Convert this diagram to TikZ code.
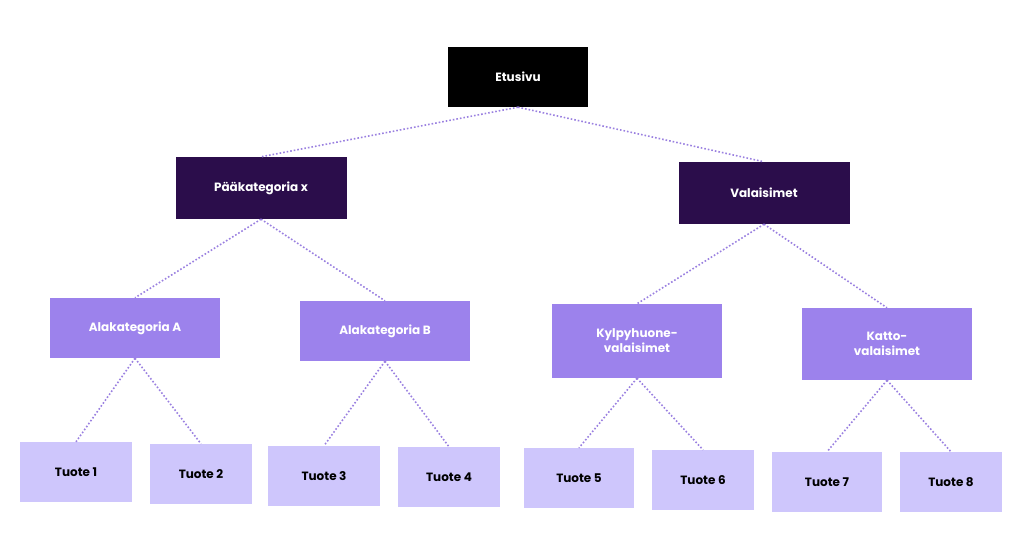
\documentclass[tikz,border=0pt]{standalone}
\usepackage{fontspec}
\setmainfont{Poppins}
\begin{document}
\begin{tikzpicture}[x=1pt,y=-1pt,
  box/.style={minimum height=60pt,align=center,font=\bfseries\fontsize{12}{15}\selectfont,inner sep=2pt},
  top/.style={box,fill=black,text=white,minimum width=140pt},
  cat/.style={box,fill=mcat,text=white,minimum width=171pt,minimum height=62pt},
  sub/.style={box,fill=msub,text=white,minimum width=170pt},
  leaf/.style={box,fill=mleaf,text=black,minimum width=106pt},
  con/.style={draw=mline,line width=1.6pt,dotted}]
\definecolor{mcat}{HTML}{2B0D4B}
\definecolor{msub}{HTML}{9C82EC}
\definecolor{mleaf}{HTML}{CEC6FC}
\definecolor{mline}{HTML}{9A80E0}
\useasboundingbox (0,0) rectangle (1024,553);
\node[top] (e) at (518,77) {Etusivu};
\node[cat] (p) at (261,188) {Pääkategoria x};
\node[cat] (v) at (764,193) {Valaisimet};
\node[sub] (a) at (135,328) {Alakategoria A};
\node[sub] (b) at (385,331) {Alakategoria B};
\node[sub,minimum height=74pt] (k) at (637,341) {Kylpyhuone-\\valaisimet};
\node[sub,minimum height=72pt] (t) at (887,344) {Katto-\\valaisimet};
\node[leaf,minimum width=112pt] (t1) at (76,472) {Tuote 1};
\node[leaf,minimum width=102pt] (t2) at (201,474) {Tuote 2};
\node[leaf,minimum width=112pt] (t3) at (324,476) {Tuote 3};
\node[leaf,minimum width=102pt] (t4) at (449,477) {Tuote 4};
\node[leaf,minimum width=110pt] (t5) at (579,478) {Tuote 5};
\node[leaf,minimum width=102pt] (t6) at (703,480) {Tuote 6};
\node[leaf,minimum width=110pt] (t7) at (827,482) {Tuote 7};
\node[leaf,minimum width=102pt] (t8) at (951,482) {Tuote 8};
\foreach \u/\w in {e/p,e/v,p/a,p/b,v/k,v/t,a/t1,a/t2,b/t3,b/t4,k/t5,k/t6,t/t7,t/t8}
  \draw[con] (\u.south) -- (\w.north);
\end{tikzpicture}
\end{document}
